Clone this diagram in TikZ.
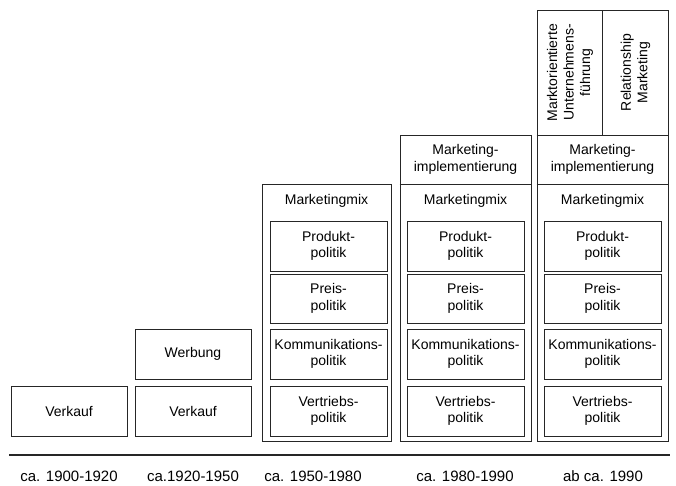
\documentclass[tikz,border=0pt]{standalone}
\usepackage{fontspec}
\setmainfont{Liberation Sans}
\begin{document}
\begin{tikzpicture}[x=1pt,y=-1pt,
  every node/.style={font=\fontsize{14}{16.5}\selectfont, align=center, inner sep=0pt},
  frame/.style={draw=black!85, line width=0.9pt},
  box/.style={frame, minimum width=116pt, minimum height=50pt},
  pbox/.style={frame, minimum width=117pt, minimum height=#1},
  period/.style={font=\fontsize{15}{18}\selectfont}]
\useasboundingbox (0,0) rectangle (676,485);

% column 1: selling
\node[box] (v1) at (69,411) {Verkauf};

% column 2: advertising on top of selling
\node[box] (w2) at (193,354) {Werbung};
\node[box] (v2) at (193,411) {Verkauf};

% column 3: marketing mix
\node[frame, minimum width=129pt, minimum height=257pt] (o3) at (326.5,312.5) {};
\node (m3) at (326.5,201) {Marketingmix};
\node[pbox=50pt] (p3) at (328.5,246) {Produkt-\\politik};
\node[pbox=49pt] (r3) at (328.5,298.5) {Preis-\\politik};
\node[pbox=50pt] (k3) at (328.5,354) {Kommunikations-\\politik};
\node[pbox=50pt] (d3) at (328.5,411) {Vertriebs-\\politik};

% column 4: implementation above the marketing mix
\node[frame, minimum width=131pt, minimum height=306pt] (o4) at (465.5,288) {};
\draw[frame] (o4.west |- 0,184) coordinate (l4) -- (o4.east |- 0,184) coordinate (r4);
\node (i4) at (465.5,159.5) {Marketing-\\implementierung};
\node (m4) at (465.5,201) {Marketingmix};
\node[pbox=50pt] (p4) at (465.5,246) {Produkt-\\politik};
\node[pbox=49pt] (r4b) at (465.5,298.5) {Preis-\\politik};
\node[pbox=50pt] (k4) at (465.5,354) {Kommunikations-\\politik};
\node[pbox=50pt] (d4) at (465.5,411) {Vertriebs-\\politik};

% column 5: market orientation and relationship marketing on top
\node[frame, minimum width=131pt, minimum height=430.5pt] (o5) at (602.5,225.75) {};
\draw[frame] (o5.west |- 0,135) coordinate (a5) -- (o5.east |- 0,135) coordinate (b5);
\draw[frame] (o5.west |- 0,184) coordinate (c5) -- (o5.east |- 0,184) coordinate (d5);
\draw[frame] (o5.north) -- (o5.north |- a5);
\node[rotate=90] (u5) at (570,72.5) {Marktorientierte\\Unternehmens-\\führung};
\node[rotate=90] (rm5) at (635.5,72.5) {Relationship\\Marketing};
\node (i5) at (602.5,159.5) {Marketing-\\implementierung};
\node (m5) at (602.5,201) {Marketingmix};
\node[pbox=50pt] (p5) at (602.5,246) {Produkt-\\politik};
\node[pbox=49pt] (r5) at (602.5,298.5) {Preis-\\politik};
\node[pbox=50pt] (k5) at (602.5,354) {Kommunikations-\\politik};
\node[pbox=50pt] (d5b) at (602.5,411) {Vertriebs-\\politik};

% time axis
\coordinate (t0) at (9,455);
\coordinate (t1) at (670,455);
\draw[black!85, line width=1.4pt] (t0) -- (t1);
\node[period] (y1) at (69,476) {ca. 1900-1920};
\node[period] (y2) at (193,476) {ca.1920-1950};
\node[period] (y3) at (313,476) {ca. 1950-1980};
\node[period] (y4) at (465,476) {ca. 1980-1990};
\node[period] (y5) at (603,476) {ab ca. 1990};
\end{tikzpicture}
\end{document}
